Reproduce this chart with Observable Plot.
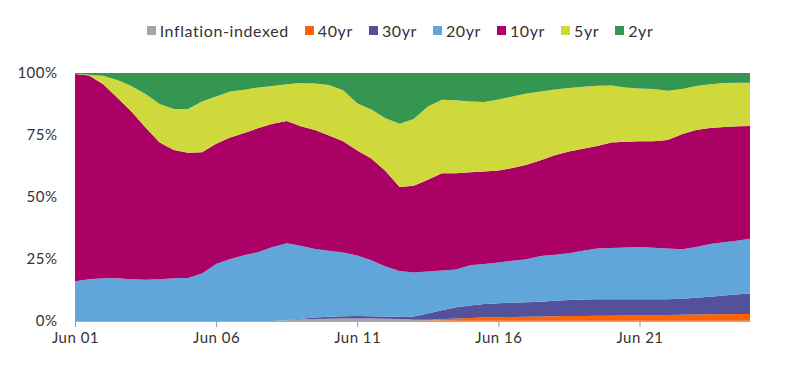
<!DOCTYPE html>
<html><head><meta charset="utf-8">
<script src="https://cdn.jsdelivr.net/npm/d3@7"></script>
<script src="https://cdn.jsdelivr.net/npm/@observablehq/plot@0.6"></script>
<style>
body{margin:0;background:#fff;font-family:Lato,"Open Sans",sans-serif;}
#legend{display:flex;justify-content:center;align-items:center;height:55px;padding-top:5px;box-sizing:border-box;font-size:16px;letter-spacing:0.6px;color:#333;}
.item{display:flex;align-items:center;margin:0 8px;}
.sw{width:9px;height:9px;margin-right:4px;}
svg text{letter-spacing:0.5px;}
</style></head><body>
<div id="legend"></div>
<div id="chart"></div>
<script>
const dates = ["2001-06","2001-12","2002-06","2002-12","2003-06","2003-12","2004-06","2004-12","2005-06","2005-12",
"2006-06","2006-12","2007-06","2007-12","2008-06","2008-12","2009-06","2009-12","2010-06","2010-12",
"2011-06","2011-12","2012-06","2012-12","2013-06","2013-12","2014-06","2014-12","2015-06","2015-12",
"2016-06","2016-12","2017-06","2017-12","2018-06","2018-12","2019-06","2019-12","2020-06","2020-12",
"2021-06","2021-12","2022-06","2022-12","2023-06","2023-12","2024-06","2024-12","2025-05"];

const seriesNames = ["Inflation-indexed","40yr","30yr","20yr","10yr","5yr","2yr"];
const seriesColors = ["#a6a6a6","#ff6200","#525199","#60a6da","#ab0066","#d0d93c","#349651"];
const tickLabels = ["2001-06","2006-06","2011-06","2016-06","2021-06"];

const inflationIndexed = [0,0,0,0,0,0,0,0,0,0,0,0,0,0,0,
0.3,0.6,0.8,0.9,1,1,1,0.9,0.8,0.5,0.3,0.2,
0.1,0.1,0.1,0.1,0.1,0.1,0.1,0.1,0.1,0.1,0.1,0.1,0.1,0.1,0.1,0.1,0.1,0.1,0.1,0.1,0.1,0.1];
const y40 = [0,0,0,0,0,0,0,0,0,0,0,0,0,0,0,0,0,0,0,0,0,0,0,0,0,
0.2,0.5,0.9,1.1,1.3,1.4,1.5,1.6,1.7,1.8,1.9,1.9,2,2,2.1,2.1,2.2,2.3,2.4,2.5,2.6,2.6,2.7,2.7];
const y30 = [0,0,0,0,0,0,0,0,0,0,0,0,0,0,0,0,
0.3,0.6,0.8,0.9,1,0.9,0.9,0.9,1.3,2.5,3.6,4.5,5.1,5.5,5.7,5.8,5.9,6,6.3,6.5,6.7,6.7,6.7,6.6,6.6,6.5,6.4,6.5,6.8,7.1,7.6,8,8.3];
const y20 = [16,16.8,17.2,17.2,16.8,16.6,16.8,17.2,17.3,19.2,23,25,26.5,27.8,29.8,31.1,29.4,27.6,26.6,25.7,
24.4,22.6,20.2,18.5,17.8,17,16.1,15.3,16.2,16.1,16.4,16.9,17.3,18.4,18.5,18.8,19.6,20.4,20.6,20.8,
21,20.7,20.4,19.9,20.4,21.2,21.5,21.7,22.1];
const y10 = [83.6,82.2,78.3,72.8,67.7,61.4,55.2,51.8,50.5,48.8,48.5,49,49.3,50,49.7,49.2,48.2,48,46.5,44.9,
42.3,41,38.5,33.8,34.9,37,39.2,38.8,37.5,37.3,37.1,37.4,38.1,38.6,40.1,41,41.2,41.4,42.6,42.7,
42.7,43,43.8,46.4,47.2,46.8,46.4,46,45.4];
const y5 = [0.1,0.3,3.4,7.2,10.3,13.5,15.5,16.5,17.7,20.5,19,18.5,17.4,16.4,15.3,14.9,17.5,18.8,20.4,20.5,
19.1,19.8,21.3,25.5,27,29.5,29.6,29.4,28.5,28,28.6,28.8,28.7,27.7,26.5,25.7,25,24.3,23,21.9,
21.2,21,19.8,18.2,17.8,17.7,17.8,17.6,17.5];
const y2 = [0.3,0.7,1.1,2.8,5.2,8.5,12.5,14.5,14.5,11.5,9.5,7.5,6.8,5.8,5.2,4.5,4,4.2,4.8,7,
12.2,14.7,18.2,20.5,18.5,13.5,10.8,11,11.5,11.7,10.7,9.5,8.3,7.5,6.7,6,5.5,5.1,5,5.8,
6.3,6.5,7.2,6.5,5.2,4.5,4,3.9,3.9];

const seriesValues = [inflationIndexed, y40, y30, y20, y10, y5, y2];
const parse = d3.utcParse("%Y-%m");
const rows = [];
seriesNames.forEach((name, s) => {
  seriesValues[s].forEach((v, i) => rows.push({date: parse(dates[i]), series: name, value: v}));
});

// legend
const legend = document.getElementById("legend");
seriesNames.forEach((name, i) => {
  const it = document.createElement("div"); it.className = "item";
  const sw = document.createElement("span"); sw.className = "sw"; sw.style.background = seriesColors[i];
  const tx = document.createElement("span"); tx.textContent = name;
  it.appendChild(sw); it.appendChild(tx); legend.appendChild(it);
});

const chart = Plot.plot({
  width: 800, height: 314,
  marginTop: 18, marginBottom: 48, marginLeft: 75, marginRight: 50,
  style: {fontFamily: "Lato, 'Open Sans', sans-serif", fontSize: "15px", color: "#333", background: "#fff"},
  x: {type: "utc", label: null},
  y: {domain: [0, 1], label: null},
  color: {domain: seriesNames, range: seriesColors},
  marks: [
    Plot.areaY(rows, Plot.stackY({offset: "normalize", order: seriesNames},
      {x: "date", y: "value", z: "series", fill: "series"})),
    Plot.ruleY([0], {stroke: "#aaa"}),
    Plot.axisX({ticks: tickLabels.map(parse), tickFormat: d3.utcFormat("%b %y"), tickSize: 6, tickPadding: 5, stroke: "#999", fill: "#333", label: null}),
    Plot.axisY({ticks: [0, 0.25, 0.5, 0.75, 1], tickFormat: d => Math.round(d * 100) + "%", tickSize: 0, tickPadding: 18, fill: "#333", label: null})
  ]
});
document.getElementById("chart").appendChild(chart);
</script>
</body></html>
